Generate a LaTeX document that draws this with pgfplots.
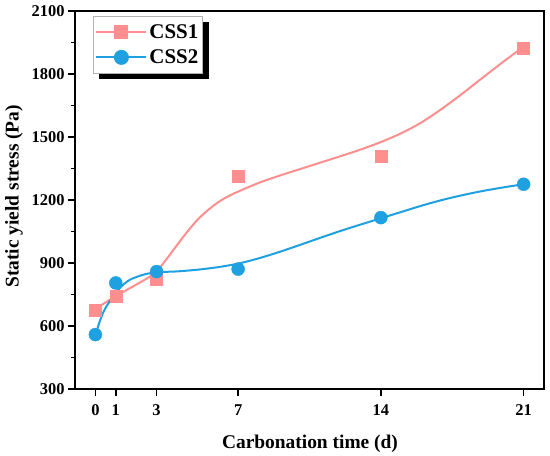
\documentclass[border=0pt]{standalone}
\usepackage{fontspec}
\setmainfont{Liberation Serif}
\usepackage{pgfplots}
\pgfplotsset{compat=1.18}
\definecolor{cpink}{RGB}{255,143,143}
\definecolor{cblue}{RGB}{30,160,225}
\begin{document}
\begin{tikzpicture}
\begin{axis}[
  name=main,
  scale only axis,
  width=469bp, height=378bp,
  xmin=-1, xmax=22,
  ymin=300, ymax=2100,
  xtick={0,1,3,7,14,21},
  ytick={300,600,900,1200,1500,1800,2100},
  minor y tick num=1,
  tick pos=left,
  tick align=outside,
  major tick length=7bp,
  minor tick length=4bp,
  every tick/.style={black, line width=1.5bp},
  axis line style={black, line width=2bp},
  /pgf/number format/assume math mode=true,
  /pgf/number format/1000 sep={},
  tick label style={font=\fontsize{16.5}{18}\selectfont\bfseries},
  xticklabel style={yshift=-5bp},
  xlabel={Carbonation time (d)},
  ylabel={Static yield stress (Pa)},
  label style={font=\fontsize{19.5}{21}\selectfont\bfseries},
  xlabel style={at={(axis description cs:0.501,-0.122)}, anchor=north, inner sep=0pt},
  ylabel style={at={(axis description cs:-0.111,0.51)}, anchor=south, inner sep=0pt},
  legend style={name=leg, at={(0.0384,0.9868)}, anchor=north west,
    font=\fontsize{21}{23}\selectfont\bfseries,
    draw=gray!60, line width=0.8bp, fill=white,
    inner xsep=2bp, inner ysep=6bp, row sep=6bp},
  legend cell align=left,
  legend image code/.code={\draw[mark repeat=2,mark phase=2,#1] plot coordinates {(0bp,0bp) (25bp,0bp) (50bp,0bp)};},
]
\addlegendimage{cpink, line width=2bp, mark=square*, mark size=6bp, mark options={solid, draw=cpink, fill=cpink}}
\addlegendentry{CSS1}
\addlegendimage{cblue, line width=2bp, mark=*, mark size=6.5bp, mark options={solid, draw=cblue, fill=cblue}}
\addlegendentry{CSS2}

% CSS1 fitted curve
\addplot[cpink, line width=2bp, smooth, forget plot] coordinates {
(0,682)(0.5,712)(1,742)(1.5,770)(2,797)(2.5,825)(3,860)(3.5,920)(4,985)(4.5,1048)(5,1105)(5.5,1150)(6,1188)(6.5,1217)(7,1240)(8,1281)(9,1315)(10,1346)(11,1377)(12,1408)(13,1440)(14,1476)(15,1518)(16,1570)(17,1635)(18,1707)(19,1783)(20,1858)(21,1930)};
% CSS1 data
\addplot[only marks, mark=square*, mark size=6bp, draw=cpink, fill=cpink, forget plot] coordinates {
(0,675)(1,741)(3,825)(7,1314)(14,1409)(21,1925)};

% CSS2 fitted curve
\addplot[cblue, line width=2bp, smooth, forget plot] coordinates {
(0,557)(0.2,618)(0.44,676)(0.85,739)(1.26,787)(1.67,819)(2.2,840)(2.5,848)(3,856)(4,860)(5,868)(6,880)(7,897)(8,922)(9,952)(10,985)(11,1019)(12,1052)(13,1083)(14,1113)(15,1143)(16,1173)(17,1200)(18,1223)(19,1243)(20,1260)(21,1275)};
% CSS2 data
\addplot[only marks, mark=*, mark size=6.5bp, draw=cblue, fill=cblue, forget plot] coordinates {
(0,559)(1,805)(3,859)(7,871)(14,1116)(21,1275)};
\end{axis}
\fill[black] ([xshift=0.4bp,yshift=-6bp]leg.north east) rectangle ([xshift=6bp,yshift=-6bp]leg.south east);
\fill[black] ([xshift=6bp,yshift=-0.4bp]leg.south west) rectangle ([xshift=6bp,yshift=-6bp]leg.south east);
\pgfresetboundingbox
\useasboundingbox (main.south west) ++(-75bp,-67bp) rectangle ++(550bp,456bp);
\end{tikzpicture}
\end{document}
